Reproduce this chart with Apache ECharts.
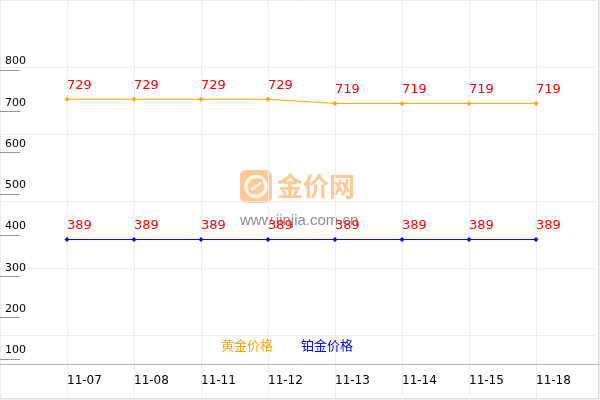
<!DOCTYPE html>
<html>
<head>
<meta charset="utf-8">
<script src="https://cdn.jsdelivr.net/npm/echarts@6/dist/echarts.min.js"></script>
<style>
html,body{margin:0;padding:0;background:#fff;}
#c{width:600px;height:400px;}
</style>
</head>
<body>
<div id="c"></div>
<script>
var categories = ['11-07','11-08','11-11','11-12','11-13','11-14','11-15','11-18'];
var goldPrices = [729,729,729,729,719,719,719,719];
var platinumPrices = [389,389,389,389,389,389,389,389];
var seriesNames = ['黄金价格','铂金价格'];
var yTicks = [0,100,200,300,400,500,600,700,800];

var FONT = '"DejaVu Sans", "Noto Sans CJK SC", sans-serif';
var chart = echarts.init(document.getElementById('c'), null, {renderer:'canvas'});

var option = {
  animation: false,
  backgroundColor: '#fff',
  textStyle: {fontFamily: FONT},
  grid: [
    {left: 0.5, top: 0.5, right: 1, bottom: 1, show: true, borderColor: '#bdbdbd', borderWidth: 1, backgroundColor: 'transparent'},
    {left: 67, right: 64, top: 70, bottom: 0}
  ],
  xAxis: [
    {gridIndex: 0, type: 'value', min: 0, max: 598.5, interval: 67,
     axisLabel: {show: false}, axisTick: {show: false},
     axisLine: {show: true, onZero: false, lineStyle: {color: '#b4b4b4', width: 1}},
     offset: -35,
     splitLine: {show: true, lineStyle: {color: '#ececec', width: 1}}},
    {gridIndex: 1, type: 'category', data: categories, boundaryGap: false,
     offset: -36,
     axisLine: {show: false}, axisTick: {show: false}, splitLine: {show: false},
     axisLabel: {show: true, interval: 0, align: 'left', margin: 11, color: '#000', fontSize: 12, fontFamily: FONT}}
  ],
  yAxis: [
    {gridIndex: 0, type: 'value', inverse: true, min: 0, max: 398.5, interval: 67,
     axisLabel: {show: false}, axisTick: {show: false}, axisLine: {show: false},
     splitLine: {show: true, lineStyle: {color: '#ececec', width: 1}}},
    {gridIndex: 1, type: 'value', min: yTicks[0], max: yTicks[yTicks.length-1], interval: 100,
     position: 'left', offset: 67,
     axisLine: {show: false},
     axisTick: {show: true, inside: true, length: 20, lineStyle: {color: '#999', width: 1}},
     splitLine: {show: false},
     axisLabel: {show: true, inside: true, margin: 5, color: '#000', fontSize: 11, fontFamily: FONT,
       verticalAlign: 'bottom', padding: [0,0,3,0],
       formatter: function(v){ return v === 0 ? '' : String(v); }}}
  ],
  legend: {
    show: true, left: 211, top: 335, icon: 'none', itemWidth: 0, itemHeight: 0, itemGap: 23,
    selectedMode: false,
    textStyle: {fontSize: 13, fontFamily: FONT},
    data: [
      {name: seriesNames[0], textStyle: {color: '#FFA500'}},
      {name: seriesNames[1], textStyle: {color: '#0000FF'}}
    ]
  },
  graphic: [
    {type: 'group', left: 240, top: 170, silent: true, z: 0, children: [
      {type: 'rect', shape: {x: 0, y: 0, width: 32, height: 33, r: 6}, style: {fill: '#fdc996'}},
      {type: 'circle', shape: {cx: 16, cy: 16.5, r: 10}, style: {fill: 'none', stroke: '#fff6ea', lineWidth: 3.5}},
      {type: 'line', shape: {x1: 10, y1: 23, x2: 22, y2: 10}, style: {stroke: '#fdc996', lineWidth: 4}},
      {type: 'line', shape: {x1: 11, y1: 20, x2: 21, y2: 13}, style: {stroke: '#fff6ea', lineWidth: 2.5}},
      {type: 'text', x: 37, y: 16.5, style: {text: '金价网', font: 'bold 26px "Noto Sans CJK SC", sans-serif', fill: '#fdc996', textVerticalAlign: 'middle', textAlign: 'left'}}
    ]},
    {type: 'text', left: 240, top: 213, silent: true, z: 0,
     style: {text: 'www.jinjia.com.cn', font: '15px "Liberation Sans", Arial, sans-serif', fill: 'rgba(120,120,120,0.85)'}}
  ],
  series: [
    {name: seriesNames[0], type: 'line', xAxisIndex: 1, yAxisIndex: 1, data: goldPrices,
     symbol: 'diamond', symbolSize: 5, z: 3,
     lineStyle: {color: '#FFA500', width: 1}, itemStyle: {color: '#FFA500'},
     label: {show: true, position: 'top', align: 'left', distance: 5, color: '#FF0000', fontSize: 13, fontFamily: FONT}},
    {name: seriesNames[1], type: 'line', xAxisIndex: 1, yAxisIndex: 1, data: platinumPrices,
     symbol: 'diamond', symbolSize: 5, z: 3,
     lineStyle: {color: '#0000FF', width: 1}, itemStyle: {color: '#0000FF'},
     label: {show: true, position: 'top', align: 'left', distance: 5, color: '#FF0000', fontSize: 13, fontFamily: FONT}}
  ]
};
chart.setOption(option);
</script>
</body>
</html>
